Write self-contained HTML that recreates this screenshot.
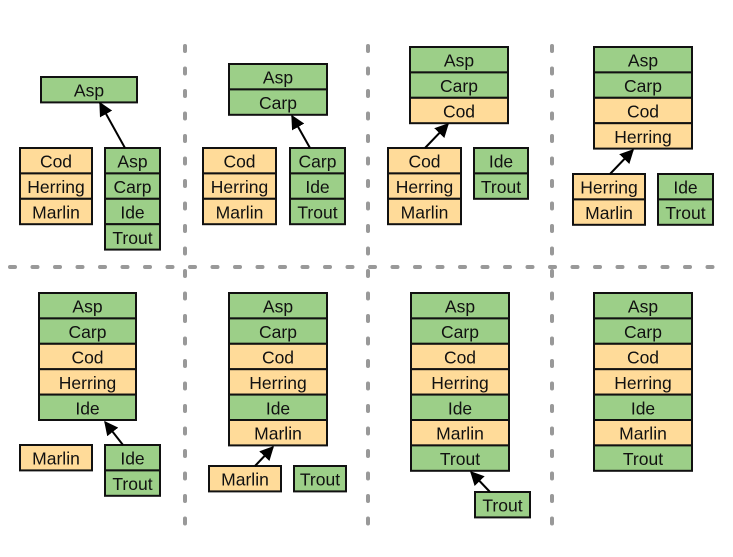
<!DOCTYPE html>
<html><head><meta charset="utf-8"><style>
body{margin:0;background:#fff}
svg text{font-family:"Liberation Sans","DejaVu Sans",sans-serif;font-size:17.5px;fill:#111;text-anchor:middle;dominant-baseline:central}
</style></head><body>
<svg id="c" width="733" height="552" viewBox="0 0 733 552">
<defs><marker id="ah" viewBox="0 0 10 10" refX="9" refY="5" markerWidth="7" markerHeight="7" orient="auto-start-reverse"><path d="M0,0L10,5L0,10z" fill="#000"/></marker></defs>
<g id="grid" stroke="#999" stroke-width="4" stroke-dasharray="5 17.5" stroke-linecap="round">
<line x1="185" y1="46" x2="185" y2="530"/><line x1="368" y1="46" x2="368" y2="530"/><line x1="552" y1="46" x2="552" y2="530"/><line x1="10" y1="267" x2="728" y2="267"/>
</g>
</svg>
<script>
const greens=["Asp","Carp","Ide","Trout"];
const boxes=[
 [41,77,96,["Asp"]],[20,148,72,["Cod","Herring","Marlin"]],[105,148,55,["Asp","Carp","Ide","Trout"]],
 [229,64,98,["Asp","Carp"]],[203,148,73,["Cod","Herring","Marlin"]],[290,148,55,["Carp","Ide","Trout"]],
 [410,47,98,["Asp","Carp","Cod"]],[388,148,73,["Cod","Herring","Marlin"]],[474,148,54,["Ide","Trout"]],
 [594,47,98,["Asp","Carp","Cod","Herring"]],[573,174,72,["Herring","Marlin"]],[658,174,55,["Ide","Trout"]],
 [39,293,97,["Asp","Carp","Cod","Herring","Ide"]],[20,445,72,["Marlin"]],[105,445,55,["Ide","Trout"]],
 [229,293,98,["Asp","Carp","Cod","Herring","Ide","Marlin"]],[209,466,72,["Marlin"]],[294,466,52,["Trout"]],
 [411,293,98,["Asp","Carp","Cod","Herring","Ide","Marlin","Trout"]],[475,492,55,["Trout"]],
 [594,293,98,["Asp","Carp","Cod","Herring","Ide","Marlin","Trout"]]
];
const arrows=[[125,148,100,103],[310,148,292,116],[425,148,448,124],[610,174,633,150],[123,445,105,422],[255,466,273,447],[490,492,471,472]];
const H=25.4,NS="http://www.w3.org/2000/svg",svg=document.getElementById('c');
function mk(t,a,p){const e=document.createElementNS(NS,t);for(const k in a)e.setAttribute(k,a[k]);(p||svg).appendChild(e);return e;}
boxes.forEach(([x,y,w,items],bi)=>{
 const g=mk('g',{});
 
 
 items.forEach((it,i)=>{
  const r=mk('rect',{x:x,y:y+i*H,width:w,height:H,fill:greens.includes(it)?'#9ccf88':'#ffdb99',stroke:'#111','stroke-width':2},g);
  
  
  const t=mk('text',{x:x+w/2,y:y+i*H+H/2+1},g);t.textContent=it;
  
  
 });
});
arrows.forEach(([x1,y1,x2,y2],i)=>{
 const l=mk('line',{x1,y1,x2,y2,stroke:'#000','stroke-width':2,'marker-end':'url(#ah)'});
 
 
});
</script>
</body></html>
